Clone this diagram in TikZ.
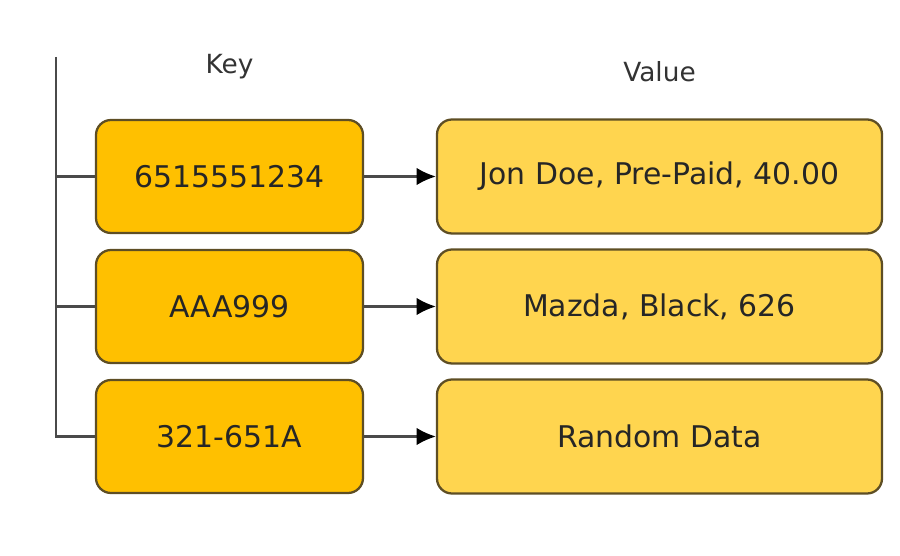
\documentclass[tikz,border=0pt]{standalone}
\usepackage{fontspec}
\setmainfont{DejaVu Sans}
\usepackage{tikz}
\usetikzlibrary{arrows.meta}

\definecolor{keyfill}{HTML}{FFC000}
\definecolor{valfill}{HTML}{FFD54F}
\definecolor{boxline}{HTML}{5E4E24}
\definecolor{wire}{HTML}{4A4A4A}

\begin{document}
\begin{tikzpicture}[thick,node distance=2.6cm,
	key node/.style={rectangle,rounded corners=0.3cm,draw=boxline,line width=1.3pt,fill=keyfill,minimum width=5.34cm,minimum height=2.26cm,inner sep=0pt,text=black!85,font=\fontsize{17}{20}\selectfont},
	value node/.style={key node,fill=valfill,minimum width=8.9cm,minimum height=2.28cm},
	head node/.style={text=black!80,font=\fontsize{15}{18}\selectfont},
	link/.style={-{Latex[length=11pt,width=10pt,color=black]},draw=wire,line width=1.2pt},
	spine/.style={draw=wire,line width=1.2pt}]

				\useasboundingbox (0,0) rectangle (18,-11.12);

				\node[key node] (K1) at (4.59,-3.53) {6515551234};
				\node[key node] (K2) [below of = K1] {AAA999};
				\node[key node] (K3) [below of=K2] {321-651A};
				\node[value node] (V1) [right of = K1, node distance=8.6cm] {Jon Doe, Pre-Paid, 40.00};
				\node[value node] (V2) [right of = K2, node distance=8.6cm] {Mazda, Black, 626};
				\node[value node] (V3) [right of=K3, node distance=8.6cm] {Random Data};

				\node[head node] (keyhead) [above of = K1, node distance=2.2cm] {Key};
				\node[head node] (valhead) [above of = V1, node distance=2.1cm] {Value};

				\coordinate (top) at (1.12,-1.14);

				\draw[spine] (top) |- (K3.west);
				\draw[spine] (K1.west) -- (K1.west -| top);
				\draw[spine] (K2.west) -- (K2.west -| top);

				\draw[link] (K1) -- (V1);
				\draw[link] (K2) -- (V2);
				\draw[link] (K3) -- (V3);

\end{tikzpicture}
\end{document}
